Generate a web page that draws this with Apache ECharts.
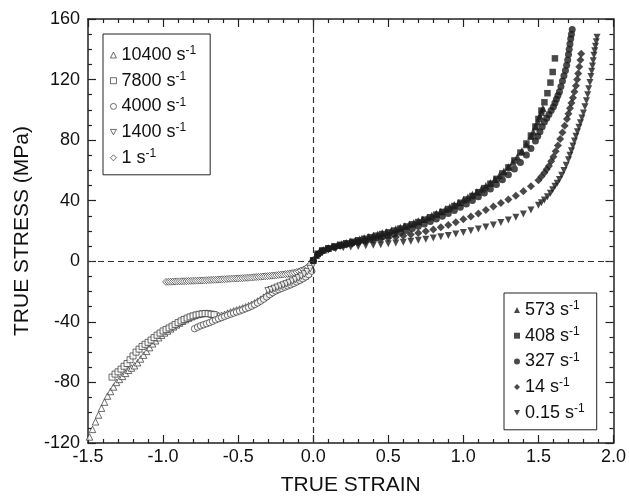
<!DOCTYPE html>
<html>
<head>
<meta charset="utf-8">
<script src="https://cdn.jsdelivr.net/npm/echarts@6/dist/echarts.min.js"></script>
<style>
  html, body { margin: 0; padding: 0; background: #fff; }
  #chart { width: 629px; height: 501px; }
</style>
</head>
<body>
<div id="chart"></div>
<script>
// compression side (open markers), [strain, stress]
const rate10400 = [[-1.49,-116],[-1.47,-111],[-1.45,-106],[-1.43,-101.5],[-1.41,-97],[-1.39,-93],[-1.37,-89],[-1.35,-86],[-1.33,-83],[-1.31,-80],[-1.29,-78],[-1.27,-76],[-1.25,-74],[-1.23,-72],[-1.21,-70.5],[-1.19,-69],[-1.17,-67],[-1.15,-64.5],[-1.13,-62],[-1.11,-59.5],[-1.09,-57],[-1.07,-54.5],[-1.05,-52.5],[-1.03,-50.5],[-1.01,-48.8],[-0.99,-47.3],[-0.97,-46],[-0.95,-44.6],[-0.93,-43.3],[-0.91,-42],[-0.89,-40.8],[-0.87,-39.6],[-0.85,-38.5],[-0.83,-37.5],[-0.81,-36.6],[-0.79,-35.8],[-0.77,-35.1],[-0.75,-34.6],[-0.73,-34.3],[-0.71,-34.2],[-0.69,-34.4],[-0.67,-34.9],[-0.65,-35.4],[-0.63,-35.7],[-0.61,-35.6],[-0.59,-35],[-0.57,-34.2],[-0.55,-33.4],[-0.53,-32.7],[-0.51,-32.1],[-0.49,-31.5],[-0.47,-30.8],[-0.45,-30.1],[-0.43,-29.3],[-0.41,-28.4],[-0.39,-27.4],[-0.37,-26.2],[-0.35,-25],[-0.33,-23.7],[-0.31,-22.3],[-0.29,-21],[-0.27,-19.8],[-0.25,-18.7],[-0.23,-17.7],[-0.21,-16.8],[-0.19,-16],[-0.17,-15.2],[-0.15,-14.4],[-0.13,-13.5],[-0.11,-12.6],[-0.09,-11.7],[-0.07,-10.7],[-0.05,-9.5],[-0.03,-7.8],[-0.01,-5]];
const rate7800 = [[-1.34,-76.5],[-1.32,-74.5],[-1.3,-73],[-1.28,-71.2],[-1.26,-69.3],[-1.24,-67.5],[-1.22,-65],[-1.2,-62.5],[-1.18,-60],[-1.16,-58],[-1.14,-56.2],[-1.12,-54.8],[-1.1,-53.5],[-1.08,-52],[-1.06,-50.4],[-1.04,-48.8],[-1.02,-47.4],[-1,-46],[-0.98,-45],[-0.96,-44],[-0.94,-42.9],[-0.92,-41.7],[-0.9,-40.5],[-0.88,-39.4],[-0.86,-38.4],[-0.84,-37.5],[-0.82,-36.7],[-0.8,-36],[-0.78,-35.4],[-0.76,-35],[-0.74,-34.7],[-0.72,-34.5],[-0.7,-34.6],[-0.68,-34.9],[-0.66,-35.2]];
const rate4000 = [[-0.79,-44.5],[-0.77,-43.5],[-0.75,-42.6],[-0.73,-41.9],[-0.71,-41.2],[-0.69,-40.5],[-0.67,-39.6],[-0.65,-38.7],[-0.63,-37.9],[-0.61,-37.2],[-0.59,-36.4],[-0.57,-35.6],[-0.55,-34.9],[-0.53,-34.2],[-0.51,-33.5],[-0.49,-32.8],[-0.47,-32.1],[-0.45,-31.3],[-0.43,-30.5],[-0.41,-29.6],[-0.39,-28.6],[-0.37,-27.5],[-0.35,-26.3],[-0.33,-25],[-0.31,-23.5],[-0.29,-22],[-0.27,-20.7],[-0.25,-19.6],[-0.23,-18.7],[-0.21,-17.9],[-0.19,-17.1],[-0.17,-16.3],[-0.15,-15.5],[-0.13,-14.6],[-0.11,-13.6],[-0.09,-12.6],[-0.07,-11.5],[-0.05,-10.3],[-0.03,-8.8],[-0.01,-6.5]];
const rate1400 = [[-0.3,-19.5],[-0.28,-18.8],[-0.26,-18],[-0.24,-17.2],[-0.22,-16.4],[-0.2,-15.7],[-0.18,-14.9],[-0.16,-14],[-0.14,-13.1],[-0.12,-12.1],[-0.1,-11],[-0.08,-9.8],[-0.06,-8.4],[-0.04,-6.8],[-0.02,-4.8],[0,-2]];
const rate1 = [[-0.98,-13.6],[-0.965,-13.55],[-0.95,-13.5],[-0.935,-13.45],[-0.92,-13.4],[-0.905,-13.3],[-0.89,-13.25],[-0.875,-13.2],[-0.86,-13.15],[-0.845,-13.1],[-0.83,-13],[-0.815,-12.95],[-0.8,-12.9],[-0.785,-12.85],[-0.77,-12.8],[-0.755,-12.7],[-0.74,-12.65],[-0.725,-12.6],[-0.71,-12.5],[-0.695,-12.4],[-0.68,-12.3],[-0.665,-12.25],[-0.65,-12.2],[-0.635,-12.1],[-0.62,-12],[-0.605,-11.9],[-0.59,-11.8],[-0.575,-11.7],[-0.56,-11.6],[-0.545,-11.5],[-0.53,-11.4],[-0.515,-11.35],[-0.5,-11.3],[-0.485,-11.2],[-0.47,-11.1],[-0.455,-11],[-0.44,-10.9],[-0.425,-10.8],[-0.41,-10.7],[-0.395,-10.55],[-0.38,-10.4],[-0.365,-10.3],[-0.35,-10.2],[-0.335,-10.05],[-0.32,-9.9],[-0.305,-9.8],[-0.29,-9.65],[-0.275,-9.5],[-0.26,-9.35],[-0.245,-9.2],[-0.23,-9],[-0.215,-8.85],[-0.2,-8.7],[-0.185,-8.5],[-0.17,-8.3],[-0.155,-8],[-0.14,-7.8],[-0.125,-7.5],[-0.11,-7.1],[-0.095,-6.7],[-0.08,-6.1],[-0.065,-5.6],[-0.05,-4.8],[-0.035,-3.6],[-0.018,-2],[0,0]];

// tension side (filled markers)
const rate573 = [[0,1],[0.02,4],[0.04,6],[0.07,7.6],[0.1,8.8],[0.13,9.7],[0.16,10.6],[0.19,11.4],[0.22,12.2],[0.25,13],[0.28,13.8],[0.31,14.6],[0.34,15.4],[0.37,16.2],[0.4,17],[0.43,17.8],[0.46,18.6],[0.49,19.4],[0.52,20.3],[0.55,21.3],[0.58,22.3],[0.61,23.3],[0.64,24.4],[0.67,25.5],[0.7,26.6],[0.73,27.7],[0.76,28.9],[0.79,30.2],[0.82,31.5],[0.85,32.9],[0.88,34.3],[0.91,35.8],[0.94,37.3],[0.97,38.9],[1,40.6],[1.03,42.3],[1.06,44.1],[1.09,45.9],[1.12,47.8],[1.15,49.8],[1.18,51.9],[1.21,54.2],[1.24,56.7],[1.27,59.4],[1.3,62.3],[1.33,65.5],[1.36,69],[1.39,72.8],[1.42,77.2],[1.45,82.5],[1.465,85.6],[1.48,88.8],[1.495,92.3],[1.51,96],[1.52,98.5],[1.53,101]];
const rate408 = [[0,0.5],[0.03,5],[0.06,7.2],[0.1,8.6],[0.14,9.8],[0.18,10.9],[0.22,11.9],[0.26,12.9],[0.3,13.9],[0.34,14.9],[0.38,15.9],[0.42,16.9],[0.46,18],[0.5,19.1],[0.54,20.3],[0.58,21.6],[0.62,23],[0.66,24.4],[0.7,25.9],[0.74,27.5],[0.78,29.1],[0.82,30.8],[0.86,32.6],[0.9,34.5],[0.94,36.5],[0.98,38.6],[1.02,40.8],[1.06,43.1],[1.1,45.6],[1.14,48.3],[1.18,51.2],[1.22,54.4],[1.26,58],[1.3,62],[1.34,66.6],[1.38,71.8],[1.42,77.8],[1.45,83],[1.48,89],[1.5,94],[1.52,99.5],[1.54,105],[1.56,111],[1.58,118],[1.595,125],[1.61,134]];
const rate327 = [[0,0.5],[0.03,4.5],[0.06,6.8],[0.1,8.3],[0.14,9.4],[0.18,10.4],[0.22,11.3],[0.26,12.1],[0.3,12.9],[0.34,13.7],[0.38,14.5],[0.42,15.3],[0.46,16.2],[0.5,17.1],[0.54,18.1],[0.58,19.2],[0.62,20.4],[0.66,21.7],[0.7,23.1],[0.74,24.6],[0.78,26.2],[0.82,27.9],[0.86,29.7],[0.9,31.6],[0.94,33.6],[0.98,35.7],[1.02,37.9],[1.06,40.2],[1.1,42.6],[1.14,45.1],[1.18,47.8],[1.22,50.7],[1.26,53.8],[1.3,57.2],[1.34,61],[1.38,65.3],[1.42,70.2],[1.45,74.5],[1.48,79.5],[1.495,82.5],[1.51,85.5],[1.525,88.8],[1.54,92],[1.555,94.5],[1.57,97],[1.585,99.5],[1.6,102],[1.61,104.5],[1.62,107],[1.63,109.5],[1.64,112],[1.65,115.5],[1.66,119],[1.67,122.5],[1.68,126],[1.688,129.5],[1.695,133],[1.7,136.5],[1.705,140],[1.71,143.5],[1.715,147],[1.72,150],[1.725,153]];
const rate14 = [[0,0.5],[0.03,4.5],[0.06,6.7],[0.1,8.2],[0.14,9.3],[0.18,10.3],[0.22,11.1],[0.26,11.8],[0.3,12.5],[0.35,13.3],[0.4,14],[0.45,14.7],[0.5,15.3],[0.55,16],[0.6,16.8],[0.65,17.7],[0.7,18.7],[0.75,19.8],[0.8,21],[0.85,22.4],[0.9,24],[0.95,25.8],[1,27.7],[1.05,29.6],[1.1,31.6],[1.15,33.8],[1.2,36.2],[1.25,38.5],[1.3,40.8],[1.35,43.2],[1.4,46.2],[1.45,49.5],[1.5,53.5],[1.52,56],[1.54,58.5],[1.555,60.7],[1.57,63],[1.585,66],[1.6,69],[1.615,72.7],[1.63,76.5],[1.645,80.7],[1.66,85],[1.675,89.5],[1.69,94],[1.7,97.5],[1.71,101],[1.72,104.5],[1.73,108],[1.74,112],[1.75,116],[1.758,120],[1.765,124],[1.772,128.5],[1.78,133],[1.785,137]];
const rate015 = [[0,0.3],[0.03,4],[0.06,6.2],[0.1,7.5],[0.15,8.3],[0.2,8.9],[0.25,9.4],[0.3,9.8],[0.35,10.2],[0.4,10.6],[0.45,11],[0.5,11.5],[0.55,12],[0.6,12.6],[0.65,13.2],[0.7,13.9],[0.75,14.6],[0.8,15.4],[0.85,16.2],[0.9,17.1],[0.95,18],[1,19],[1.05,20.1],[1.1,21.3],[1.15,22.6],[1.2,24],[1.25,25.6],[1.3,27.3],[1.35,29.1],[1.4,31.2],[1.45,33.8],[1.5,37],[1.52,38.6],[1.54,40.5],[1.56,42.6],[1.58,45],[1.595,47.2],[1.61,49.5],[1.625,51.6],[1.64,54],[1.655,56.8],[1.67,60],[1.685,63.4],[1.7,67],[1.71,70],[1.72,73],[1.73,76.2],[1.74,79.5],[1.75,82.5],[1.76,85.5],[1.77,88.5],[1.78,91.5],[1.79,94.7],[1.8,98],[1.81,102],[1.82,106],[1.828,110],[1.835,114],[1.843,118],[1.85,122],[1.855,125.5],[1.86,129],[1.865,132.5],[1.87,136],[1.875,139],[1.88,142],[1.885,145],[1.89,148]];

const openNames = ['10400 s⁻¹', '7800 s⁻¹', '4000 s⁻¹', '1400 s⁻¹', '1 s⁻¹'];
const filledNames = ['573 s⁻¹', '408 s⁻¹', '327 s⁻¹', '14 s⁻¹', '0.15 s⁻¹'];

const FONT = '"Liberation Sans", Arial, Helvetica, sans-serif';
const DOWN = 'path://M0,0L10,0L5,9Z';
const openIcons = ['triangle', 'rect', 'circle', DOWN, 'diamond'];
const filledIcons = ['triangle', 'rect', 'circle', 'diamond', DOWN];

const chart = echarts.init(document.getElementById('chart'), null, { renderer: 'canvas' });

const openStyle = { color: '#fff', borderColor: '#333', borderWidth: 0.9 };
const fillStyle = { color: '#1c1c1c', borderWidth: 0 };

function openSeries(name, data, symbol, size) {
  return { name: name, type: 'scatter', data: data, symbol: symbol, symbolSize: size, itemStyle: openStyle, silent: true };
}
function filledSeries(name, data, symbol, size) {
  return { name: name, type: 'scatter', data: data, symbol: symbol, symbolSize: size, itemStyle: fillStyle, silent: true };
}

const legendText = {
  fontFamily: FONT,
  rich: {
    b: { fontSize: 18, fontFamily: FONT, color: '#111', lineHeight: 20 },
    s: { fontSize: 12, fontFamily: FONT, color: '#111', lineHeight: 12, verticalAlign: 'top' }
  }
};
const fmt = name => '{b|' + name.replace('⁻¹', '') + '}{s|-1}';

function tickAxis(extra) {
  return Object.assign({
    type: 'value',
    axisLine: { show: true, onZero: false, lineStyle: { color: '#222', width: 1.5 } },
    axisTick: { show: true, inside: true, length: 8, lineStyle: { color: '#222', width: 1.2 } },
    minorTick: { show: true, splitNumber: 4, length: 4, lineStyle: { color: '#222', width: 1.2 } },
    splitLine: { show: false },
    minorSplitLine: { show: false }
  }, extra);
}

const option = {
  animation: false,
  backgroundColor: '#fff',
  grid: { left: 88, right: 14, top: 19, bottom: 53, containLabel: false },
  xAxis: [
    tickAxis({
      min: -1.5, max: 2, interval: 0.5, position: 'bottom',
      minorTick: { show: true, splitNumber: 5, length: 4, lineStyle: { color: '#222', width: 1.2 } },
      axisLabel: { fontSize: 18, fontFamily: FONT, color: '#111', margin: 5, formatter: v => v.toFixed(1) },
      name: 'TRUE STRAIN', nameLocation: 'middle', nameGap: 32,
      nameTextStyle: { fontSize: 21, fontFamily: FONT, color: '#111' }
    }),
    tickAxis({
      min: -1.5, max: 2, interval: 0.5, position: 'top',
      minorTick: { show: true, splitNumber: 5, length: 4, lineStyle: { color: '#222', width: 1.2 } },
      axisLabel: { show: false }
    })
  ],
  yAxis: [
    tickAxis({
      min: -120, max: 160, interval: 40, position: 'left',
      axisLabel: { fontSize: 18, fontFamily: FONT, color: '#111', margin: 8 },
      name: 'TRUE STRESS (MPa)', nameLocation: 'middle', nameGap: 55, nameRotate: 90,
      nameTextStyle: { fontSize: 21, fontFamily: FONT, color: '#111' }
    }),
    tickAxis({
      min: -120, max: 160, interval: 40, position: 'right',
      axisLabel: { show: false }
    })
  ],
  legend: [
    {
      data: openNames.map((n, i) => ({ name: n, icon: openIcons[i], itemStyle: openStyle })),
      orient: 'vertical', left: 103, top: 34,
      borderColor: '#222', borderWidth: 1, padding: [11, 14, 8, 7],
      itemGap: 6.7, itemWidth: 6, itemHeight: 6, itemTextGap: 7,
      textStyle: legendText, formatter: fmt, selectedMode: false
    },
    {
      data: filledNames.map((n, i) => ({ name: n, icon: filledIcons[i], itemStyle: fillStyle })),
      orient: 'vertical', left: 504, top: 293,
      borderColor: '#222', borderWidth: 1, padding: [7, 12, 8, 10],
      itemGap: 6.7, itemWidth: 6, itemHeight: 6, itemTextGap: 6,
      textStyle: legendText, formatter: fmt, selectedMode: false
    }
  ],
  series: [
    {
      type: 'line', data: [], silent: true,
      markLine: {
        silent: true, symbol: 'none', animation: false,
        label: { show: false },
        lineStyle: { color: '#333', width: 1.2, type: [6, 4] },
        data: [{ xAxis: 0 }, { yAxis: 0 }]
      }
    },
    openSeries(openNames[4], rate1, 'diamond', 7),
    openSeries(openNames[0], rate10400, 'triangle', 6.5),
    openSeries(openNames[1], rate7800, 'rect', 6),
    openSeries(openNames[2], rate4000, 'circle', 6.5),
    openSeries(openNames[3], rate1400, DOWN, 6.5),
    filledSeries(filledNames[4], rate015, DOWN, 7),
    filledSeries(filledNames[3], rate14, 'diamond', 8),
    filledSeries(filledNames[2], rate327, 'circle', 7),
    filledSeries(filledNames[1], rate408, 'rect', 6.5),
    filledSeries(filledNames[0], rate573, 'triangle', 7.5)
  ]
};

chart.setOption(option);
window.addEventListener('resize', () => chart.resize());
</script>
</body>
</html>
